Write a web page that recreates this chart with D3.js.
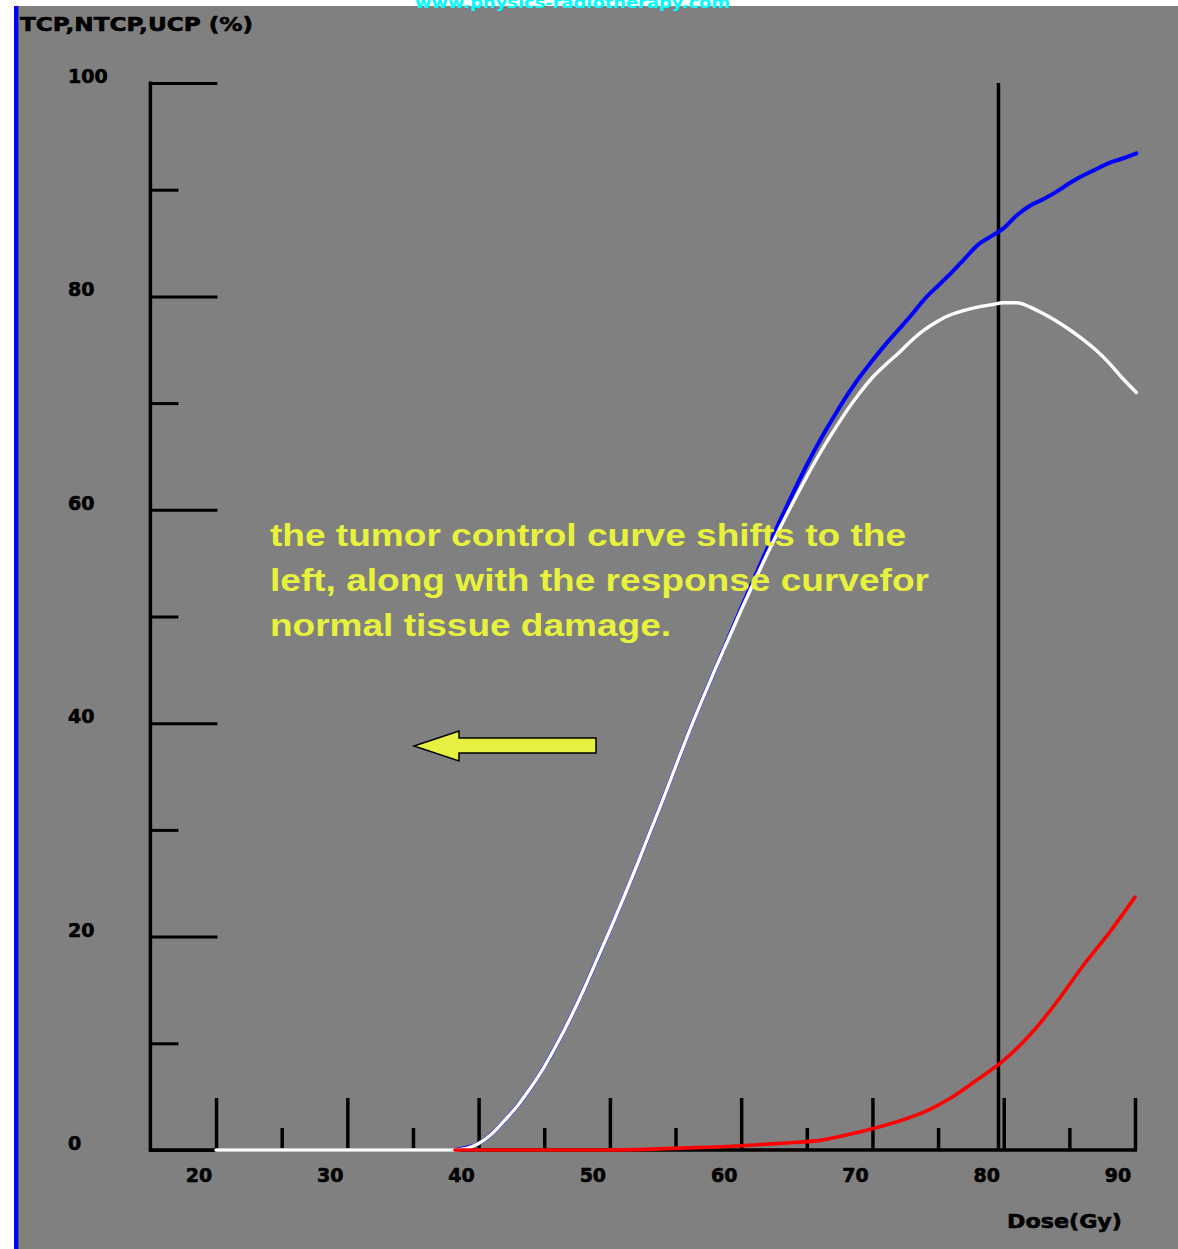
<!DOCTYPE html>
<html>
<head>
<meta charset="utf-8">
<script src="https://cdn.jsdelivr.net/npm/d3@7"></script>
<style>
  html, body { margin: 0; padding: 0; background: #fff; }
  svg { display: block; }
</style>
</head>
<body>
<div id="chart"></div>
<script>
// curves (dose in Gy, probability in %)
const ucpDose = [20, 38.2, 40, 41, 42, 43, 44, 45, 46, 47, 48, 49, 50, 51, 52, 53, 54, 55, 56, 57, 58, 59, 60, 61, 62, 63, 64, 65, 66, 67, 68, 69, 70, 71, 72, 73, 74, 75, 76, 77, 78, 79, 80, 81, 82, 83, 84, 85, 86, 87, 88, 89, 90.1];
const ucpValues = [0, 0, 0.6, 1.5, 2.8, 4.2, 5.9, 7.8, 10.0, 12.4, 15.0, 17.8, 20.6, 23.5, 26.5, 29.6, 32.7, 35.9, 39.1, 42.1, 45.0, 47.8, 50.6, 53.3, 55.9, 58.4, 60.8, 63.1, 65.3, 67.3, 69.2, 70.9, 72.4, 73.6, 74.7, 75.9, 76.9, 77.7, 78.3, 78.7, 79.0, 79.2, 79.4, 79.4, 79.0, 78.4, 77.7, 76.9, 76.0, 75.0, 73.8, 72.4, 71.0];

const tcpDose = [38.2, 40, 41, 42, 43, 44, 45, 46, 47, 48, 49, 50, 51, 52, 53, 54, 55, 56, 57, 58, 59, 60, 61, 62, 63, 64, 65, 66, 67, 68, 69, 70, 71, 72, 73, 74, 75, 76, 77, 78, 79, 80, 81, 82, 83, 84, 85, 86, 87, 88, 89, 90.1];
const tcpValues = [0, 0.6, 1.5, 2.8, 4.2, 5.9, 7.8, 10.0, 12.4, 15.0, 17.8, 20.6, 23.5, 26.5, 29.6, 32.7, 35.9, 39.1, 42.1, 45.0, 47.9, 50.8, 53.6, 56.4, 59.1, 61.7, 64.2, 66.5, 68.6, 70.6, 72.4, 74.0, 75.5, 76.9, 78.3, 79.8, 81.0, 82.2, 83.5, 84.8, 85.6, 86.4, 87.6, 88.5, 89.1, 89.8, 90.6, 91.3, 91.9, 92.5, 92.9, 93.4];

const ntcpDose = [38.2, 50, 56, 60, 62, 64, 66, 68, 70, 72, 74, 76, 78, 80, 82, 84, 86, 88, 90];
const ntcpValues = [0, 0, 0.2, 0.4, 0.55, 0.7, 0.9, 1.4, 2.0, 2.7, 3.6, 4.9, 6.6, 8.4, 10.8, 13.8, 17.2, 20.3, 23.7];

const markerDose = 79.6;

const xMajor = [20, 30, 40, 50, 60, 70, 80, 90];
const xMinor = [25, 35, 45, 55, 65, 75, 85];
const yMajor = [0, 20, 40, 60, 80, 100];
const yMinor = [10, 30, 50, 70, 90];

const noteLines = [
    "the tumor control curve shifts to the",
    "left, along with the response curvefor",
    "normal tissue damage."
];
const noteWidths = [636, 659, 401];

const W = 1178, H = 1249;

const svg = d3.select("#chart")
    .append("svg")
    .attr("width", W)
    .attr("height", H);

// panel
svg.append("rect").attr("x", 14).attr("y", 6).attr("width", 4).attr("height", H - 6).attr("fill", "#0000ff");
svg.append("rect").attr("x", 18).attr("y", 6).attr("width", W - 18).attr("height", H - 6).attr("fill", "#808080");
svg.append("rect").attr("x", 18).attr("y", 6).attr("width", 1).attr("height", H - 6).attr("fill", "#555");

// header text, cut by the top of the frame as in the original
svg.append("text")
    .attr("x", 415)
    .attr("y", 8)
    .attr("textLength", 315)
    .attr("lengthAdjust", "spacingAndGlyphs")
    .style("font-family", "DejaVu Sans")
    .style("font-weight", "bold")
    .style("font-size", "16px")
    .attr("fill", "#00ffff")
    .text("www.physics-radiotherapy.com");

const x = d3.scaleLinear().domain([15, 90]).range([150.4, 1135]);
const y = d3.scaleLinear().domain([0, 100]).range([1150, 83]);

function labelStyle(sel) {
    sel.style("font-family", "DejaVu Sans")
        .style("font-weight", "bold")
        .style("font-size", "19px")
        .attr("fill", "#000")
        .attr("stroke", "#000")
        .attr("stroke-width", 0.6);
}

// y axis
svg.append("g")
    .attr("transform", `translate(${x(15)},0)`)
    .call(d3.axisRight(y).tickValues(yMajor).tickSize(67).tickFormat(""))
    .call(g => g.select(".domain").remove())
    .call(g => g.selectAll("line").attr("stroke", "#000").attr("stroke-width", 3));

svg.append("g")
    .attr("transform", `translate(${x(15)},0)`)
    .call(d3.axisRight(y).tickValues(yMinor).tickSize(28).tickFormat(""))
    .call(g => g.select(".domain").remove())
    .call(g => g.selectAll("line").attr("stroke", "#000").attr("stroke-width", 3));

svg.append("line")
    .attr("x1", x(15)).attr("x2", x(15))
    .attr("y1", y(100) - 1.5).attr("y2", y(0) + 1.5)
    .attr("stroke", "#000").attr("stroke-width", 3.5);

svg.append("g")
    .selectAll("text")
    .data(yMajor)
    .join("text")
    .attr("x", 68)
    .attr("y", d => y(d))
    .call(labelStyle)
    .text(d => d);

// x axis
svg.append("g")
    .attr("transform", `translate(0,${y(0)})`)
    .call(d3.axisTop(x).tickValues(xMajor).tickSize(52).tickFormat(""))
    .call(g => g.select(".domain").remove())
    .call(g => g.selectAll("line").attr("stroke", "#000").attr("stroke-width", 3.5));

svg.append("g")
    .attr("transform", `translate(0,${y(0)})`)
    .call(d3.axisTop(x).tickValues(xMinor).tickSize(22).tickFormat(""))
    .call(g => g.select(".domain").remove())
    .call(g => g.selectAll("line").attr("stroke", "#000").attr("stroke-width", 3.5));

svg.append("line")
    .attr("x1", x(15) - 1.5).attr("x2", x(90) + 2)
    .attr("y1", y(0)).attr("y2", y(0))
    .attr("stroke", "#000").attr("stroke-width", 3.5);

svg.append("g")
    .selectAll("text")
    .data(xMajor)
    .join("text")
    .attr("x", d => x(d) - 17)
    .attr("y", 1182)
    .attr("text-anchor", "middle")
    .call(labelStyle)
    .text(d => d);

// axis titles
svg.append("text")
    .attr("x", 20)
    .attr("y", 31)
    .attr("textLength", 233)
    .attr("lengthAdjust", "spacingAndGlyphs")
    .call(labelStyle)
    .style("font-size", "20px")
    .text("TCP,NTCP,UCP (%)");

svg.append("text")
    .attr("x", 1007)
    .attr("y", 1228)
    .attr("textLength", 115)
    .attr("lengthAdjust", "spacingAndGlyphs")
    .call(labelStyle)
    .style("font-size", "20px")
    .text("Dose(Gy)");

// prescription marker
svg.append("line")
    .attr("x1", x(markerDose)).attr("x2", x(markerDose))
    .attr("y1", y(100)).attr("y2", y(0))
    .attr("stroke", "#000").attr("stroke-width", 3.5);

// curves
const line = d3.line()
    .x(d => x(d[0]))
    .y(d => y(d[1]))
    .curve(d3.curveMonotoneX);

const series = [
    { dose: tcpDose, vals: tcpValues, color: "#0000ff", w: 4 },
    { dose: ucpDose, vals: ucpValues, color: "#ffffff", w: 3.4 },
    { dose: ntcpDose, vals: ntcpValues, color: "#ff0000", w: 3.6 }
];

series.forEach(s => {
    svg.append("path")
        .datum(d3.zip(s.dose, s.vals))
        .attr("fill", "none")
        .attr("stroke", s.color)
        .attr("stroke-width", s.w)
        .attr("stroke-linejoin", "round")
        .attr("stroke-linecap", "round")
        .attr("d", line);
});

// annotation
svg.append("g")
    .selectAll("text")
    .data(noteLines)
    .join("text")
    .attr("x", 270)
    .attr("y", (d, i) => 546 + i * 45)
    .attr("textLength", (d, i) => noteWidths[i])
    .attr("lengthAdjust", "spacingAndGlyphs")
    .style("font-family", "Liberation Sans, Arial, sans-serif")
    .style("font-weight", "bold")
    .style("font-size", "31px")
    .attr("fill", "#e8f23c")
    .text(d => d);

// arrow pointing left
svg.append("path")
    .attr("d", "M414,746 L459,731 L459,738 L596,738 L596,753 L459,753 L459,761 Z")
    .attr("fill", "#e6f040")
    .attr("stroke", "#000")
    .attr("stroke-width", 1.5)
    .attr("stroke-linejoin", "miter");
</script>
</body>
</html>
